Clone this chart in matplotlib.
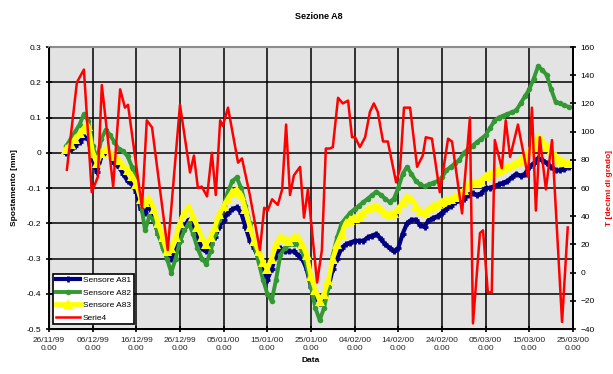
"""
Sezione A8: spostamenti dei sensori A81-A83 e temperatura (Serie4)
nel periodo 26/11/99 - 25/03/00.
"""

import matplotlib
matplotlib.use("Agg")
import matplotlib.pyplot as plt
import numpy as np
import pandas as pd

plt.rcParams["font.family"] = ["Liberation Sans", "DejaVu Sans"]

# origine dell'asse tempi
data_inizio = pd.Timestamp("1999-11-26")

# letture giornaliere dei sensori, dal giorno 4 (30/11/99) al giorno 119
giorno_primo = 4
sensore_a81 = [
    0.00, 0.01, 0.02, 0.03, 0.045, 0.04, -0.02, -0.055, -0.01, 0.00,
    -0.01, -0.03, -0.04, -0.06, -0.08, -0.09, -0.11, -0.16, -0.17, -0.15,
    -0.19, -0.23, -0.26, -0.29, -0.30, -0.28, -0.25, -0.21, -0.19, -0.21,
    -0.24, -0.27, -0.28, -0.26, -0.24, -0.21, -0.19, -0.17, -0.16, -0.155,
    -0.17, -0.21, -0.25, -0.27, -0.30, -0.33, -0.36, -0.33, -0.29, -0.27,
    -0.28, -0.28, -0.28, -0.29, -0.30, -0.33, -0.38, -0.41, -0.425, -0.41,
    -0.38, -0.33, -0.30, -0.27, -0.26, -0.255, -0.25, -0.25, -0.25, -0.24,
    -0.235, -0.23, -0.245, -0.26, -0.27, -0.28, -0.27, -0.23, -0.20, -0.19,
    -0.19, -0.205, -0.21, -0.19, -0.185, -0.18, -0.17, -0.16, -0.15, -0.14,
    -0.135, -0.13, -0.12, -0.115, -0.12, -0.115, -0.10, -0.10, -0.095, -0.09,
    -0.085, -0.08, -0.07, -0.06, -0.065, -0.06, -0.04, -0.03, -0.015, -0.02,
    -0.03, -0.04, -0.05, -0.05, -0.045, -0.04,
]
sensore_a82 = [
    0.02, 0.04, 0.06, 0.08, 0.11, 0.09, 0.02, -0.02, 0.04, 0.065,
    0.05, 0.03, 0.01, 0.005, -0.01, -0.04, -0.08, -0.14, -0.22, -0.18,
    -0.19, -0.23, -0.27, -0.30, -0.34, -0.30, -0.25, -0.22, -0.20, -0.23,
    -0.27, -0.30, -0.315, -0.28, -0.23, -0.19, -0.15, -0.11, -0.08, -0.07,
    -0.10, -0.15, -0.20, -0.26, -0.31, -0.36, -0.40, -0.42, -0.36, -0.29,
    -0.27, -0.26, -0.26, -0.26, -0.28, -0.32, -0.38, -0.44, -0.475, -0.44,
    -0.38, -0.29, -0.24, -0.20, -0.185, -0.17, -0.16, -0.15, -0.14, -0.13,
    -0.12, -0.11, -0.12, -0.13, -0.14, -0.13, -0.10, -0.06, -0.04, -0.06,
    -0.08, -0.09, -0.095, -0.09, -0.085, -0.08, -0.07, -0.05, -0.04, -0.03,
    -0.02, 0.00, 0.01, 0.02, 0.03, 0.04, 0.05, 0.07, 0.09, 0.10,
    0.105, 0.11, 0.115, 0.12, 0.14, 0.16, 0.18, 0.21, 0.245, 0.235,
    0.22, 0.18, 0.145, 0.14, 0.135, 0.13,
]
sensore_a83 = [
    0.01, 0.025, 0.04, 0.055, 0.07, 0.075, 0.00, -0.03, 0.00, 0.01,
    0.00, -0.01, -0.02, -0.035, -0.05, -0.065, -0.09, -0.13, -0.14, -0.13,
    -0.16, -0.20, -0.24, -0.28, -0.27, -0.24, -0.20, -0.17, -0.155, -0.18,
    -0.21, -0.24, -0.26, -0.24, -0.21, -0.175, -0.15, -0.13, -0.11, -0.105,
    -0.12, -0.16, -0.21, -0.25, -0.28, -0.31, -0.33, -0.30, -0.26, -0.24,
    -0.245, -0.25, -0.24, -0.24, -0.26, -0.29, -0.35, -0.39, -0.42, -0.40,
    -0.36, -0.30, -0.26, -0.23, -0.20, -0.19, -0.185, -0.18, -0.17, -0.16,
    -0.155, -0.15, -0.16, -0.17, -0.175, -0.17, -0.16, -0.14, -0.125, -0.13,
    -0.15, -0.165, -0.17, -0.16, -0.15, -0.145, -0.14, -0.135, -0.13, -0.125,
    -0.12, -0.105, -0.09, -0.085, -0.085, -0.08, -0.065, -0.06, -0.055, -0.05,
    -0.045, -0.04, -0.035, -0.03, -0.02, -0.01, 0.005, 0.02, 0.045, 0.035,
    0.02, 0.005, -0.01, -0.02, -0.025, -0.03,
]

# Serie4: temperatura in decimi di grado (giorni dall'origine, valore)
serie4_giorni = [
    4.1, 6.4, 8.0, 9.8, 11.2, 12.1, 14.7, 16.3, 17.4, 18.1,
    21.3, 22.4, 23.6, 27.2, 30.0, 32.3, 33.2, 34.1, 35.0, 36.2,
    37.3, 38.2, 39.2, 39.8, 41.0, 43.3, 44.2, 46.0, 48.3, 49.3,
    50.1, 51.1, 52.4, 53.4, 54.3, 55.2, 56.1, 57.5, 58.4, 59.3,
    61.4, 62.5, 63.4, 64.3, 65.0, 66.2, 67.3, 68.5, 69.4, 70.1,
    71.2, 72.4, 73.5, 74.4, 75.3, 76.5, 77.6, 79.5, 80.4, 81.3,
    82.7, 84.3, 85.6, 86.3, 87.7, 89.5, 91.4, 92.3, 94.6, 96.4,
    97.1, 98.7, 99.4, 100.5, 101.4, 102.1, 103.7, 104.6, 105.6, 107.4,
    109.7, 110.6, 111.5, 112.4, 113.8, 115.2, 117.5, 118.8,
]
serie4_valori = [
    73, 135, 144, 57, 68, 133, 61, 130, 117, 119,
    46, 108, 103, 16, 119, 71, 83, 60, 61, 54,
    85, 55, 108, 104, 117, 78, 81, 55, 16, 46,
    44, 52, 48, 59, 105, 55, 69, 75, 39, 59,
    -7, 16, 88, 88, 89, 124, 120, 122, 96, 96,
    89, 96, 114, 120, 114, 93, 93, 64, 74, 117,
    117, 75, 83, 96, 95, 57, 95, 93, 42, 110,
    -36, 28, 30, -14, -14, 94, 74, 108, 82, 105,
    68, 117, 44, 96, 59, 94, -35, 32,
]

date_sensori = data_inizio + pd.to_timedelta(
    np.arange(giorno_primo, giorno_primo + len(sensore_a81)), unit="D"
)
date_serie4 = data_inizio + pd.to_timedelta(serie4_giorni, unit="D")

fig = plt.figure(figsize=(6.13, 3.74), dpi=100)
ax = fig.add_axes([0.0799, 0.1203, 0.8548, 0.7540])
ax.set_facecolor("#e3e3e3")

ax.plot(date_sensori, sensore_a81, color="#000080", lw=3.0, marker="+",
        ms=5, mew=2.0, label="Sensore A81")
ax.plot(date_sensori, sensore_a82, color="#339933", lw=2.8, marker="o",
        ms=4, mew=0, label="Sensore A82")
ax.plot(date_sensori, sensore_a83, color="#ffff00", lw=3.4, marker="^",
        ms=6.5, mew=0, label="Sensore A83")

ax.set_ylim(-0.5, 0.3)
ax.set_yticks(np.arange(-0.5, 0.31, 0.1))
ax.set_yticklabels(["-0.5", "-0.4", "-0.3", "-0.2", "-0.1", "0",
                    "0.1", "0.2", "0.3"])
ax.set_xlim(data_inizio, data_inizio + pd.Timedelta(days=120))
xt = data_inizio + pd.to_timedelta(np.arange(0, 121, 10), unit="D")
ax.set_xticks(xt)
ax.set_xticklabels([d.strftime("%d/%m/%y") + "\n0.00" for d in xt])

ax.grid(True, color="black", lw=1.1)
ax.set_axisbelow(True)
ax.tick_params(direction="inout", length=5, width=1.2, labelsize=6,
               colors="black", pad=3)
ax.tick_params(axis="x", labelcolor="#222222")
for side in ("left", "bottom"):
    ax.spines[side].set_linewidth(1.4)
ax.spines["top"].set_color("#8c8c8c")
ax.spines["top"].set_linewidth(1.5)
ax.spines["right"].set_linewidth(1.4)

ax.set_ylabel("Spostamento [mm]", fontsize=6, fontweight="bold", labelpad=6)
ax.set_xlabel("Data", fontsize=6, fontweight="bold", labelpad=4)

# asse secondario per la temperatura
ax2 = ax.twinx()
ax2.plot(date_serie4, serie4_valori, color="#ff0000", lw=1.8, label="Serie4")
ax2.set_ylim(-40, 160)
ax2.set_yticks(np.arange(-40, 161, 20))
ax2.tick_params(direction="inout", length=5, width=1.2, labelsize=6, pad=3)
ax2.spines["right"].set_linewidth(1.4)
ax2.spines["top"].set_visible(False)
ax2.set_ylabel("T [decimi di grado]", fontsize=6, fontweight="bold",
               color="#ff0000", labelpad=8)

handles = ax.get_legend_handles_labels()[0] + ax2.get_legend_handles_labels()[0]
labels = [h.get_label() for h in handles]
leg = ax.legend(handles, labels, loc="lower left",
                bbox_to_anchor=(0.008, 0.016), fontsize=6, frameon=True,
                fancybox=False, edgecolor="black", framealpha=1,
                handlelength=2.9, handletextpad=0.3, borderpad=0.35,
                labelspacing=0.55, borderaxespad=0)
leg.get_frame().set_linewidth(1.2)
leg.set_zorder(10)
leg.remove()
ax2.add_artist(leg)

fig.text(0.52, 0.955, "Sezione A8", ha="center", va="center",
         fontsize=6.5, fontweight="bold")

fig.savefig("out.png", dpi=100)
